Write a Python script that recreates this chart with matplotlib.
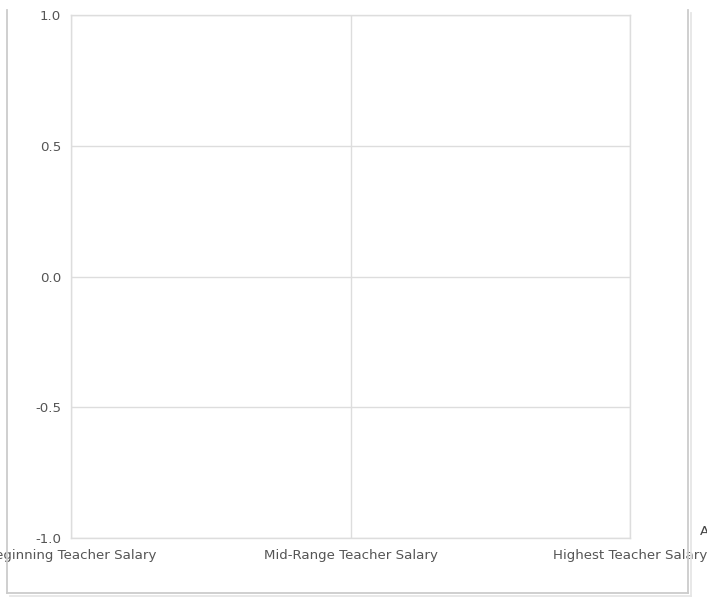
import matplotlib
matplotlib.use("Agg")
import matplotlib.pyplot as plt
from matplotlib.lines import Line2D

categories = ["Beginning Teacher Salary", "Mid-Range Teacher Salary", "Highest Teacher Salary"]
y_ticks = [-1.0, -0.5, 0.0, 0.5, 1.0]
series_values = []  # the chart has no data plotted

W, H = 707, 598
fig = plt.figure(figsize=(W / 100, H / 100), dpi=100)
ax = fig.add_axes([71 / W, 1 - 538 / H, (630 - 71) / W, (538 - 15) / H])

grid_c = "#dddddd"
ax.set_xlim(0, len(categories) - 1)
ax.set_ylim(y_ticks[0], y_ticks[-1])
ax.set_xticks(range(len(categories)))
ax.set_xticklabels(categories)
ax.set_yticks(y_ticks)
ax.set_yticklabels([f"{v:.1f}" for v in y_ticks])
ax.grid(True, color=grid_c, linewidth=1)
ax.set_axisbelow(True)
for s in ax.spines.values():
    s.set_color(grid_c)
    s.set_linewidth(1)
ax.tick_params(length=0, colors="#555555", labelsize=9.6)
ax.tick_params(axis="x", pad=8)
ax.tick_params(axis="y", pad=7)

# outer container frame with a light shadow
def px(x, y):
    return x / W, 1 - y / H

frame_c = "#cccccc"
for (x0, y0), (x1, y1), c in [
    ((7, 10), (7, 593), frame_c),
    ((7, 593), (688, 593), frame_c),
    ((688, 10), (688, 593), frame_c),
    ((10, 596), (691, 596), "#e6e6e6"),
    ((691, 13), (691, 596), "#e6e6e6"),
]:
    a, b = px(x0, y0)
    c2, d = px(x1, y1)
    fig.add_artist(Line2D([a, c2], [b, d], color=c, linewidth=1.3))

fig.text(700 / W, 1 - 532 / H, "Average", fontsize=9.6, color="#444444",
         ha="left", va="center")

fig.savefig("out.png", dpi=100)
